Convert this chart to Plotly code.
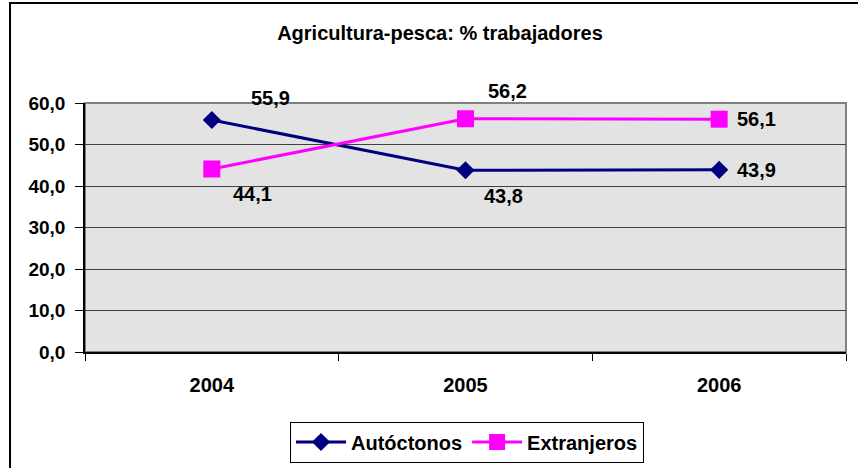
import plotly.graph_objects as go

years = ["2004", "2005", "2006"]
autoctonos = [55.9, 43.8, 43.9]
extranjeros = [44.1, 56.2, 56.1]
y_ticks = [0, 10, 20, 30, 40, 50, 60]
title_text = "Agricultura-pesca: % trabajadores"

FONT = "Arial, 'Liberation Sans', sans-serif"

def fmt(v):
    return f"{v:.1f}".replace(".", ",")

fig = go.Figure()
fig.add_trace(go.Scatter(
    x=years, y=autoctonos, name="Autóctonos", mode="lines+markers",
    line=dict(color="#000080", width=3),
    marker=dict(symbol="diamond", size=14, color="#000080"),
))
fig.add_trace(go.Scatter(
    x=years, y=extranjeros, name="Extranjeros", mode="lines+markers",
    line=dict(color="#FF00FF", width=3),
    marker=dict(symbol="square", size=17, color="#FF00FF"),
))

# data labels (offsets in pixels)
a_shift = [(59, 22), (38, -26), (37, 0)]
e_shift = [(41, -25), (42, 28), (37, 0)]
for ys, shifts in ((autoctonos, a_shift), (extranjeros, e_shift)):
    for i, (yv, (dx, dy)) in enumerate(zip(ys, shifts)):
        fig.add_annotation(x=i, y=yv, xref="x", yref="y", text=fmt(yv),
                           showarrow=False, xshift=dx, yshift=dy,
                           font=dict(family=FONT, size=20, color="black",
                                     weight="bold"))

# plot-area geometry in pixels: x 85..846, y 103..352
def px_x(p):
    return (p - 85) / 761

def px_y(p):
    return (352 - p) / 249

# outer chart border (left and top visible)
fig.add_shape(type="rect", xref="paper", yref="paper",
              x0=px_x(10), x1=px_x(875), y0=px_y(490), y1=px_y(3),
              line=dict(color="black", width=2), layer="above")
# plot area border (grey)
fig.add_shape(type="rect", xref="paper", yref="paper",
              x0=0, x1=1, y0=0, y1=1,
              line=dict(color="#808080", width=2), layer="below")

fig.update_layout(
    width=858, height=468,
    margin=dict(l=85, r=12, t=103, b=116),
    paper_bgcolor="white",
    plot_bgcolor="#e3e3e3",
    separators=",.",
    font=dict(family=FONT, size=19, color="black", weight="bold"),
    title=dict(text=title_text, x=440 / 858, xref="container",
               xanchor="center", y=1 - 33 / 468, yref="container", yanchor="middle",
               font=dict(family=FONT, size=20, color="black", weight="bold")),
    showlegend=True,
    legend=dict(orientation="h", xref="container", yref="container",
                x=467 / 858, xanchor="center", y=1 - 442 / 468, yanchor="middle",
                bordercolor="black", borderwidth=1, bgcolor="white",
                font=dict(family=FONT, size=20, color="black", weight="bold"),
                itemwidth=50, traceorder="normal"),
    xaxis=dict(type="category", range=[-0.5, 2.5], showgrid=False,
               tickson="boundaries", ticks="outside", ticklen=7, tickcolor="black",
               showline=True, linecolor="black", linewidth=1.5,
               tickfont=dict(family=FONT, size=20, color="black", weight="bold"),
               ticklabelstandoff=14, zeroline=False, automargin=False),
    yaxis=dict(range=[0, 60], tickvals=y_ticks, tickformat=".1f",
               showgrid=True, gridcolor="#404040", gridwidth=1,
               ticks="outside", ticklen=8, tickcolor="black",
               showline=True, linecolor="black", linewidth=1.5,
               tickfont=dict(family=FONT, size=19, color="black", weight="bold"),
               ticklabelstandoff=6, zeroline=False, automargin=False),
)

fig.write_html("out.html", config={"displayModeBar": False},
               post_script="document.body.style.margin='0';document.body.style.overflow='hidden';")
